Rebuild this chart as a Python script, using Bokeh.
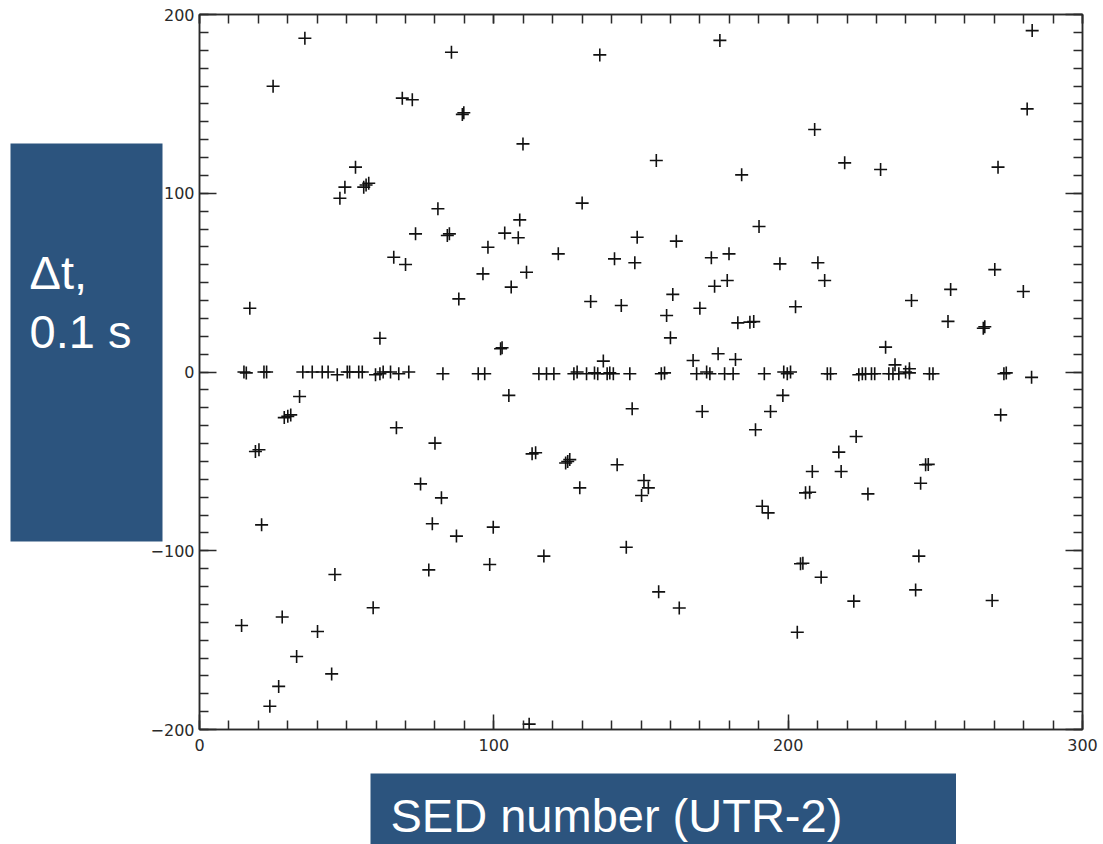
from bokeh.plotting import figure
from bokeh.models import LinearAxis, FixedTicker, Label, Range1d, Spacer, BoxAnnotation
from bokeh.layouts import row, column
from bokeh.embed import file_html
from bokeh.resources import INLINE

# ---- data: SED number vs delay (0.1 s units) ----
upper_x = [35.8, 85.6, 25.0, 68.9, 72.3, 89.3, 89.8, 53.0, 49.4, 47.7, 55.8, 57.5, 56.6,
           81.0, 73.4, 84.2, 84.9, 98.0, 66.0, 70.0, 96.3, 88.1, 17.1, 61.3, 102.3, 102.8,
           176.8, 136.0, 109.9, 155.2, 184.2, 130.0, 108.8, 103.7, 108.3, 190.1, 148.7, 162.0,
           121.9, 141.0, 147.9, 173.9, 179.9, 197.2, 111.1, 105.9, 175.0, 179.3, 132.9, 143.3,
           160.8, 158.7, 170.0, 160.0, 182.9, 187.0, 188.3, 202.5, 137.2, 167.7, 176.2, 182.1,
           282.9, 281.2, 209.0, 219.2, 231.4, 271.3, 210.1, 212.4, 270.2, 279.9, 255.2, 241.9,
           254.3, 266.3, 266.8, 233.1, 236.3, 241.2]
upper_y = [186.7, 178.9, 159.9, 153.2, 152.3, 144.1, 145.0, 114.6, 103.4, 97.2, 103.4, 105.6, 104.6,
           91.3, 77.3, 76.4, 77.3, 69.8, 64.2, 60.1, 54.9, 40.9, 35.7, 18.9, 13.0, 13.6,
           185.5, 177.4, 127.6, 118.3, 110.3, 94.5, 85.1, 77.7, 75.1, 81.4, 75.4, 73.2,
           66.1, 63.3, 61.1, 63.9, 66.1, 60.5, 55.8, 47.5, 48.0, 51.2, 39.4, 37.2,
           43.4, 31.6, 35.7, 19.1, 27.5, 27.9, 28.2, 36.5, 6.1, 6.4, 10.2, 7.0,
           191.0, 147.2, 135.7, 117.0, 113.3, 114.6, 61.1, 51.2, 57.3, 45.0, 46.2, 40.0,
           28.3, 24.5, 25.3, 13.9, 4.0, 1.8]

zero_x = [15.1, 15.9, 21.9, 22.8, 35.1, 38.3, 41.7, 43.7, 46.8, 50.2, 51.0, 54.1, 55.3, 59.8,
          61.3, 62.4, 64.9, 67.7, 71.1, 82.7, 94.7, 96.9,
          115.3, 117.9, 120.4, 127.2, 128.3, 131.5, 134.2, 135.3, 138.5, 139.4, 140.6, 146.2,
          156.9, 158.0, 168.9, 172.3, 173.4, 178.4, 181.3, 191.9, 198.5, 199.7, 200.8,
          213.3, 214.4, 224.0, 225.2, 226.3, 228.3, 229.4, 234.2, 235.6, 237.6, 239.9, 241.2,
          248.0, 249.2, 273.3, 274.1, 282.7]
zero_y = [0, -0.5, 0, 0, 0, 0, 0, 0, -1.5, 0, 0, 0, 0, -1.5,
          -1, 0, 0, -1, 0, -1, -1, -1,
          -1, -1, -1, -1, 0, -1, -0.5, -1, -1, -0.5, -1, -1,
          -1, -0.5, -1, 0, -1, -1, -1, -1, 0, -1, 0,
          -1, -1, -1.5, -1, -1, -1, -1, -1, -1, -1, 0, -0.5,
          -1, -1, -1, -0.5, -3]

lower_x = [34.0, 28.8, 30.0, 31.0, 66.9, 80.0, 19.0, 20.2, 75.1, 82.2, 21.1, 79.1, 87.3,
           99.8, 98.6, 77.9, 46.0, 59.0, 14.3, 28.1, 40.1, 33.0, 44.9, 26.9, 23.9,
           105.1, 147.0, 170.8, 194.0, 198.2, 188.9, 113.0, 114.2, 124.4, 125.1, 125.8, 141.9,
           129.2, 151.0, 152.5, 150.2, 191.2, 193.2, 117.0, 145.0, 156.0, 163.0, 112.0,
           272.2, 223.1, 217.2, 208.2, 218.0, 205.9, 207.3, 227.1, 246.7, 247.6, 245.0,
           204.2, 205.0, 211.2, 244.4, 222.3, 243.3, 269.3, 203.1]
lower_y = [-13.7, -25.5, -24.8, -24.0, -31.2, -39.8, -44.5, -43.5, -62.6, -70.4, -85.5, -84.9, -91.8,
           -86.8, -107.7, -110.7, -113.3, -131.9, -141.8, -137.1, -145.2, -159.2, -168.9, -175.9, -187.0,
           -13.1, -20.6, -22.1, -22.1, -13.1, -32.3, -45.8, -45.2, -50.9, -50.1, -49.0, -51.9,
           -64.8, -60.7, -64.8, -69.1, -75.1, -78.8, -103.0, -98.0, -123.0, -132.0, -197.0,
           -24.0, -36.1, -44.8, -55.7, -55.7, -67.6, -67.3, -68.2, -51.9, -51.7, -62.2,
           -107.3, -107.0, -114.8, -103.0, -128.2, -121.9, -127.8, -145.6]

x_ticks = [0, 100, 200, 300]
x_tick_labels = ["0", "100", "200", "300"]
y_ticks = [-200, -100, 0, 100, 200]
y_tick_labels = ["\u2212200", "\u2212100", "0", "100", "200"]
y_label = ["\u0394t,", "0.1 s"]
x_label = "SED number (UTR-2)"

sed = upper_x + zero_x + lower_x
dt = upper_y + zero_y + lower_y

BOX = "#2C547E"
AX = "#2a2a2a"
FS = "47px"
CAP_FONT = "Liberation Sans"

# ---------------- main scatter plot ----------------
p = figure(width=956, height=773, x_range=Range1d(0, 300), y_range=Range1d(-200, 200),
           output_backend="svg", toolbar_location=None,
           min_border_left=52, min_border_right=21, min_border_top=14, min_border_bottom=44)
p.margin = (0, 0, 0, -18)
p.grid.visible = False
p.outline_line_color = AX
p.outline_line_width = 1.5
p.background_fill_color = "white"
p.border_fill_color = "white"
p.border_fill_alpha = 0.0

xminor = list(range(0, 301, 10))
yminor = list(range(-200, 201, 10))


def style(ax, ticks, minor, labels, show, major_len=15):
    ax.ticker = FixedTicker(ticks=ticks, minor_ticks=minor)
    ax.axis_line_color = AX
    ax.axis_line_width = 1.5
    ax.major_tick_line_color = AX
    ax.major_tick_line_width = 1.5
    ax.minor_tick_line_color = AX
    ax.minor_tick_line_width = 1.5
    ax.major_tick_in = major_len
    ax.major_tick_out = 0
    ax.minor_tick_in = 9
    ax.minor_tick_out = 0
    ax.major_label_text_font = "DejaVu Sans"
    ax.major_label_text_color = "#2a2a2a"
    ax.major_label_text_font_size = "16px"
    if show:
        ax.major_label_overrides = {t: l for t, l in zip(ticks, labels)}
    else:
        ax.major_label_overrides = {t: "" for t in ticks}
        ax.major_label_standoff = 0


style(p.xaxis[0], x_ticks, xminor, x_tick_labels, True)
p.xaxis[0].major_label_standoff = 9
style(p.yaxis[0], y_ticks, yminor, y_tick_labels, True, major_len=17)
p.yaxis[0].major_label_standoff = 5

top = LinearAxis()
style(top, x_ticks, xminor, x_tick_labels, False, major_len=9)
p.add_layout(top, "above")
right = LinearAxis()
style(right, y_ticks, yminor, y_tick_labels, False, major_len=17)
p.add_layout(right, "right")

p.scatter(sed, dt, marker="cross", size=13, line_width=1.6, line_color="#111111")

# ---------------- y caption box (left) ----------------
# frame matches the main frame vertically; ranges are in page-pixel units
lb = figure(width=165, height=773, x_range=Range1d(0, 165), y_range=Range1d(729, 14),
            output_backend="svg", toolbar_location=None,
            x_axis_location=None, y_axis_location=None,
            min_border_left=0, min_border_right=0, min_border_top=14, min_border_bottom=44)
lb.grid.visible = False
lb.outline_line_color = None
lb.background_fill_color = "white"
lb.border_fill_color = "white"
lb.add_layout(BoxAnnotation(left=10, right=162, top=143, bottom=541,
                            fill_color=BOX, fill_alpha=1.0, line_color=None))
for txt, base in zip(y_label, [272, 331]):
    lb.add_layout(Label(x=29, y=base, text=txt, text_font=CAP_FONT, text_font_size=FS,
                        text_color="white", text_baseline="alphabetic"))

# ---------------- x caption box (bottom) ----------------
bb = figure(width=586, height=71, x_range=Range1d(370, 956), y_range=Range1d(844, 773),
            output_backend="svg", toolbar_location=None,
            x_axis_location=None, y_axis_location=None,
            min_border_left=0, min_border_right=0, min_border_top=0, min_border_bottom=0)
bb.grid.visible = False
bb.outline_line_color = None
bb.background_fill_color = BOX
bb.border_fill_color = BOX
bb.add_layout(Label(x=390, y=815, text=x_label, text_font=CAP_FONT, text_font_size=FS,
                    text_color="white", text_baseline="alphabetic"))

layout = column(row(lb, p), row(Spacer(width=370, height=71), bb))

open("out.html", "w").write(file_html(layout, INLINE))
